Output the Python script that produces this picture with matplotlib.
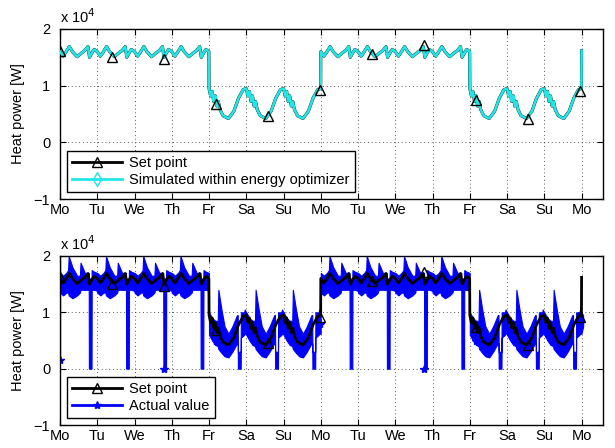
import numpy as np
import matplotlib
matplotlib.use('Agg')
import matplotlib.pyplot as plt
from matplotlib.lines import Line2D

plt.rcParams['font.family'] = ['Liberation Sans', 'DejaVu Sans']
plt.rcParams['font.size'] = 10

# day labels for the x axis (hours from Monday 0:00)
day_labels = ['Mo', 'Tu', 'We', 'Th', 'Fr', 'Sa', 'Su',
              'Mo', 'Tu', 'We', 'Th', 'Fr', 'Sa', 'Su', 'Mo']
day_kind = ['wd', 'wd', 'wd', 'wd', 'we', 'we', 'we',
            'wd', 'wd', 'wd', 'wd', 'we', 'we', 'we']

# set point profile over one day [x 10^4 W]
wd_hours = [0, 2, 4, 6, 8, 11, 14, 16, 18, 19, 21, 22, 23.9]
wd_setp = [1.60, 1.52, 1.60, 1.69, 1.60, 1.51, 1.58, 1.62, 1.69, 1.50, 1.60, 1.64, 1.60]
we_hours = [0, 1, 2, 3, 4, 5, 6, 7, 9, 12.5, 16, 19, 22, 23.9]
we_setp = [0.95, 0.82, 0.90, 0.72, 0.82, 0.64, 0.72, 0.58, 0.47, 0.42, 0.55, 0.78, 0.93, 0.95]
end_t, end_setp = 336, 1.62

# measured heat power band (lower / upper edge) over one day [x 10^4 W]
wd_hours_b = [0, 2, 4, 5.2, 5.6, 8, 11, 12.8, 13.2, 16, 18.5, 18.6, 20.3, 20.4, 22, 23.9]
wd_low = [1.35, 1.30, 1.35, 1.35, 1.30, 1.25, 1.30, 1.35, 1.40, 1.40, 1.40, 0.00, 0.00, 1.40, 1.40, 1.38]
wd_high = [1.70, 1.65, 1.70, 1.75, 2.00, 1.80, 1.65, 1.65, 1.88, 1.70, 1.70, 1.60, 1.60, 1.75, 1.72, 1.70]
we_hours_b = [0, 2, 4, 5.6, 6.0, 8, 10, 12.5, 15, 18, 18.5, 18.6, 20.4, 20.5, 22.6, 23.0, 23.9]
we_low = [0.60, 0.50, 0.42, 0.40, 0.35, 0.28, 0.22, 0.20, 0.30, 0.45, 0.45, 0.00, 0.00, 0.55, 0.60, 0.62, 0.62]
we_high = [1.00, 0.90, 0.85, 0.85, 1.40, 1.05, 0.75, 0.62, 0.75, 0.95, 0.95, 0.30, 0.30, 1.00, 1.00, 1.05, 1.00]
start_b = (0, 0.15, 1.90)
end_b = (337, 0.75, 0.95)

# marker positions
mark_t = [0, 33.5, 67, 100.5, 134, 167.5, 201, 234.5, 268, 301.5, 335]
mark_setp = [1.62, 1.50, 1.47, 0.68, 0.46, 0.92, 1.56, 1.72, 0.74, 0.42, 0.91]
mark_meas = [0.15, 1.50, 0.00, 0.50, 0.40, 0.80, 1.50, 0.00, 0.50, 0.40, 0.85]


def stitch(hours_wd, hours_we, *cols):
    t = []
    out = [[] for c in cols]
    for d, kind in enumerate(day_kind):
        hrs = hours_wd if kind == 'wd' else hours_we
        t += [24 * d + h for h in hrs]
        for o, (cwd, cwe) in zip(out, cols):
            o += cwd if kind == 'wd' else cwe
    return [np.array(t)] + [np.array(o) for o in out]


t_sp, v_sp = stitch(wd_hours, we_hours, (wd_setp, we_setp))
t_sp = np.append(t_sp, end_t)
v_sp = np.append(v_sp, end_setp)

t_b, lo_b, hi_b = stitch(wd_hours_b, we_hours_b, (wd_low, we_low), (wd_high, we_high))
t_b = np.concatenate([[start_b[0]], t_b, [end_b[0]]])
lo_b = np.concatenate([[start_b[1]], lo_b, [end_b[1]]])
hi_b = np.concatenate([[start_b[2]], hi_b, [end_b[2]]])

cyan = '#22e6e6'
scale = 1e4
fig = plt.figure(figsize=(6.15, 4.48), dpi=100)
ax1 = fig.add_axes([0.0976, 0.5558, 0.8834, 0.3795])
ax2 = fig.add_axes([0.0976, 0.0513, 0.8834, 0.3773])


def style(ax):
    ax.set_xlim(0, 350)
    ax.set_ylim(-1e4, 2e4)
    ax.set_xticks(np.arange(0, 337, 24))
    ax.set_xticklabels(day_labels)
    ax.set_yticks([-1e4, 0, 1e4, 2e4])
    ax.set_yticklabels(['\u22121', '0', '1', '2'])
    ax.tick_params(direction='in', top=True, right=True, length=4, width=0.8,
                   labelsize=10.5)
    ax.tick_params(axis='x', pad=3)
    ax.tick_params(axis='y', pad=7)
    ax.grid(True, color='#222222', linestyle=(0, (1, 3.5)), linewidth=0.6)
    for s in ax.spines.values():
        s.set_linewidth(1.0)
    ax.set_ylabel('Heat power [W]', fontsize=10.5, labelpad=6)
    ax.text(0, 1.015, r'x 10$^4$', transform=ax.transAxes, fontsize=10.5,
            ha='left', va='bottom')


# top: set point vs optimizer simulation
ax1.plot(t_sp, v_sp * scale, color='k', lw=2.2, zorder=2)
ax1.plot(t_sp, v_sp * scale, color=cyan, lw=1.9, zorder=3)
ax1.plot(mark_t, np.array(mark_setp) * scale, ls='none', marker='^', ms=7,
         mfc='none', mec='k', mew=1.0, zorder=4)
style(ax1)
h1 = [Line2D([], [], color='k', lw=2, marker='^', ms=7, mfc='none', mec='k'),
      Line2D([], [], color=cyan, lw=2, marker='d', ms=7, mfc='none', mec=cyan)]
leg1 = ax1.legend(h1, ['Set point', 'Simulated within energy optimizer'],
                  loc='lower left', borderaxespad=0.5, fancybox=False,
                  edgecolor='k', framealpha=1, fontsize=10.5, handlelength=3.4,
                  borderpad=0.35, labelspacing=0.2, handletextpad=0.5)
leg1.get_frame().set_linewidth(1.0)

# bottom: set point vs measured value
ax2.fill_between(t_b, lo_b * scale, hi_b * scale, color='b', lw=0.8, edgecolor='b', zorder=2)
ax2.plot(mark_t, np.array(mark_meas) * scale, ls='none', marker='*', ms=6,
         color='b', zorder=2)
ax2.plot(t_sp, v_sp * scale, color='k', lw=2.0, zorder=3)
ax2.plot(mark_t, np.array(mark_setp) * scale, ls='none', marker='^', ms=7,
         mfc='none', mec='k', mew=1.0, zorder=4)
style(ax2)
h2 = [Line2D([], [], color='k', lw=2, marker='^', ms=7, mfc='none', mec='k'),
      Line2D([], [], color='b', lw=2, marker='*', ms=6)]
leg2 = ax2.legend(h2, ['Set point', 'Actual value'],
                  loc='lower left', borderaxespad=0.5, fancybox=False,
                  edgecolor='k', framealpha=1, fontsize=10.5, handlelength=3.4,
                  borderpad=0.35, labelspacing=0.2, handletextpad=0.5)
leg2.get_frame().set_linewidth(1.0)

fig.savefig('out.png', dpi=100)
